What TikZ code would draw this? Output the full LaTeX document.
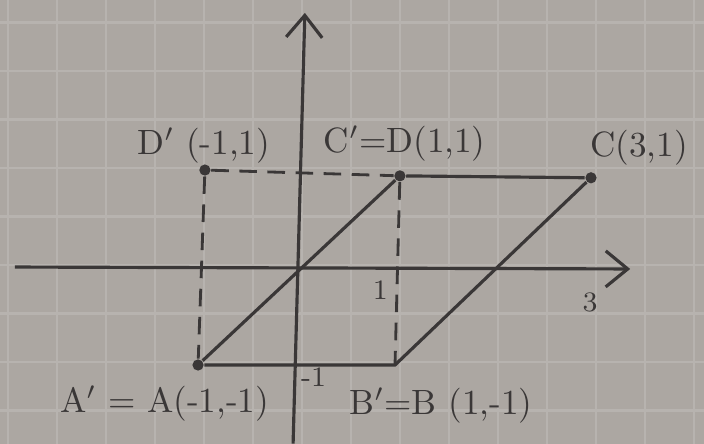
\documentclass[tikz,border=0pt]{standalone}
\usepackage{tikz}
\usetikzlibrary{arrows.meta,positioning}

\definecolor{paperbg}{RGB}{172,167,162}
\definecolor{gridc}{RGB}{183,179,175}
\definecolor{pen}{RGB}{58,55,55}

\begin{document}
\begin{tikzpicture}[
    x=0.98cm, y=0.97cm,
    gridline/.style={draw=gridc, line width=0.7pt},
    axis/.style={-{Straight Barb[length=2.2mm,width=3.6mm]}, line width=0.9pt, pen},
    side/.style={line width=0.9pt, pen},
    helper/.style={line width=0.8pt, pen, dash pattern=on 5pt off 3pt},
    dot/.style={circle, fill=pen, inner sep=0pt, minimum size=3.2pt},
    lbl/.style={font=\normalsize, text=pen},
    tick/.style={font=\footnotesize, text=pen}
  ]
    % paper and squares
    \fill[paperbg] (-3.031,-1.814) rectangle (4.153,2.763);
    \useasboundingbox (-3.031,-1.814) rectangle (4.153,2.763);
    \begin{scope}
      \clip (-3.031,-1.814) rectangle (4.153,2.763);
      \draw[gridline, shift={(0.05,0.03)}] (-3.5,-2.5) grid[step=0.5] (4.5,3);
    \end{scope}

    % axes
    \coordinate (xl) at (-2.88,0.01);
    \coordinate (xr) at (3.40,-0.01);
    \coordinate (yb) at (-0.04,-1.81);
    \coordinate (yt) at (0.08,2.63);
    \draw[axis] (xl) -- (xr);
    \draw[axis] (yb) -- (yt);

    % points
    \node[dot] (Dp) at (-0.94,1.01) {};
    \node[dot] (D)  at (1.05,0.95) {};
    \node[dot] (C)  at (3.0,0.93) {};
    \node[dot] (A)  at (-1.01,-1.0) {};
    \coordinate (B) at (1.0,-1.0);

    \draw[helper] (Dp) -- (D);
    \draw[helper] (Dp) -- (A);
    \draw[helper] (D) -- (B);
    \draw[side] (A) -- (B) -- (C) -- (D) -- (A);

    % labels
    \node[lbl] (lDp) at (-0.95,1.26) {D$'$\ (-1,1)};
    \node[lbl] (lD)  at (1.10,1.28) {C$'$=D(1,1)};
    \node[lbl] (lC)  at (3.49,1.24) {C(3,1)};
    \node[lbl] (lA)  at (-1.35,-1.40) {A$'$ = A(-1,-1)};
    \node[lbl] (lB)  at (1.47,-1.42) {B$'$=B (1,-1)};
    \node[tick] (t1)  at (0.85,-0.23) {1};
    \node[tick] (t3)  at (2.99,-0.36) {3};
    \node[tick] (tm1) at (0.17,-1.13) {-1};
  \end{tikzpicture}
\end{document}
